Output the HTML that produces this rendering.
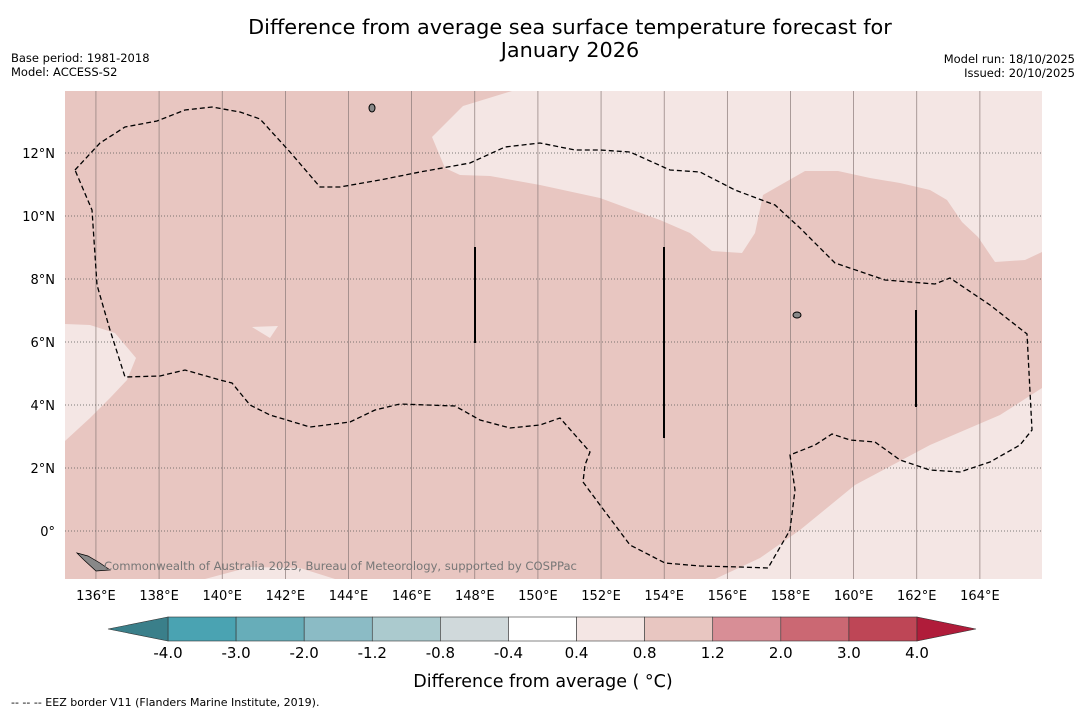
<!DOCTYPE html>
<html><head><meta charset="utf-8"><style>
body{margin:0;background:#fff;font-family:"Liberation Sans","DejaVu Sans",sans-serif;}
svg{display:block}
</style></head><body>
<svg id="c" width="1085" height="713" xmlns="http://www.w3.org/2000/svg" font-family="DejaVu Sans, Liberation Sans, sans-serif">
<text x="570" y="34" font-size="20.8" text-anchor="middle">Difference from average sea surface temperature forecast for</text>
<text x="570" y="57" font-size="20.8" text-anchor="middle">January 2026</text>
<text x="11" y="62" font-size="11.5">Base period: 1981-2018</text>
<text x="11" y="76" font-size="11.5">Model: ACCESS-S2</text>
<text x="1075" y="63" font-size="11.5" text-anchor="end">Model run: 18/10/2025</text>
<text x="1075" y="77" font-size="11.5" text-anchor="end">Issued: 20/10/2025</text>
<defs><clipPath id="mc"><rect x="65" y="91" width="977" height="488"/></clipPath></defs>
<g id="map" clip-path="url(#mc)">
<rect x="65" y="91" width="977" height="488" fill="#e8c6c1"/>
<polygon fill="#f4e6e4" points="432,137 463,106 512,91 1042,91 1042,252 1025,260 995,262 978,237 962,222 947,200 930,190 900,183 870,178 838,171 805,171 763,195 755,233 742,253 712,251 690,233 660,220 600,198 540,185 490,176 460,175 445,168"/>
<polygon fill="#f4e6e4" points="65,324 90,325 115,333 136,358 127,380 110,398 90,418 65,441"/>
<polygon fill="#f4e6e4" points="715,579 760,558 800,530 855,485 930,445 1000,415 1042,388 1042,579"/>
<polygon fill="#f4e6e4" points="252,327 278,326 270,338"/>
<polygon fill="#f4e6e4" points="205,579 250,567 300,568 335,579"/>
<g id="grid"></g>
<polyline fill="none" stroke="#000" stroke-width="1.3" stroke-dasharray="5,3" points="75,170 100,143 125,127 157,121 185,110 212,107 240,112 260,119 290,152 320,187 340,187 380,180 420,172 470,163 505,147 540,143 575,150 600,150 630,152 670,170 700,172 735,190 775,205 800,228 835,263 885,280 935,284 950,278 990,305 1027,334 1032,430 1020,445 990,462 960,472 930,470 900,460 875,442 850,440 832,434 815,445 790,455 795,490 790,530 768,568 740,567 700,566 665,563 630,545 600,505 583,482 585,465 590,452 575,435 560,418 540,425 510,428 480,420 455,406 400,404 375,410 350,422 310,427 270,415 250,405 232,383 220,380 185,370 160,376 125,377 110,330 97,285 92,210 75,170"/>
<line x1="475" y1="247" x2="475" y2="343" stroke="#000" stroke-width="2"/>
<line x1="664" y1="247" x2="664" y2="438" stroke="#000" stroke-width="2"/>
<line x1="916" y1="310" x2="916" y2="407" stroke="#000" stroke-width="2"/>
<polygon fill="#888" stroke="#000" stroke-width="0.7" points="77,553 88,556 100,563 110,570 96,571 84,560"/>
<ellipse cx="797" cy="315" rx="4" ry="3" fill="#888" stroke="#000"/>
<ellipse cx="372" cy="108" rx="3" ry="4" fill="#888" stroke="#000"/>
<text x="104" y="570" font-size="11.6" fill="#777">Commonwealth of Australia 2025, Bureau of Meteorology, supported by COSPPac</text>
</g>
<g id="axes"></g>
<g id="cbar"></g>
<text x="543" y="687" font-size="17.5" text-anchor="middle">Difference from average ( °C)</text>
<text x="11" y="706" font-size="11">--  --  -- EEZ border V11 (Flanders Marine Institute, 2019).</text>
</svg>
<script>
const lonTicks=[136,138,140,142,144,146,148,150,152,154,156,158,160,162,164];
const latTicks=[0,2,4,6,8,10,12];
const cbarLevels=["-4.0","-3.0","-2.0","-1.2","-0.8","-0.4","0.4","0.8","1.2","2.0","3.0","4.0"];
const cbarColors=["#4aa3b2","#67adb9","#8bbbc5","#abcace","#d0d9db","#ffffff","#f4e6e4","#e8c6c1","#d88e96","#cb6873","#be4656"];
const NS="http://www.w3.org/2000/svg";
const x=lon=>65+(lon-135.02)*31.57;
const y=lat=>531-lat*31.5;
function mk(p,t,a){const e=document.createElementNS(NS,t);for(const k in a)e.setAttribute(k,a[k]);p.appendChild(e);return e;}
const grid=document.getElementById('grid'),axes=document.getElementById('axes'),cb=document.getElementById('cbar');
lonTicks.forEach(l=>{const e=mk(grid,'line',{x1:x(l),x2:x(l),y1:91,y2:579,stroke:'#8a7a78','stroke-width':0.7});


const t=mk(axes,'text',{x:x(l),y:600,'font-size':13,'text-anchor':'middle'});t.textContent=l+'°E';

});
latTicks.forEach(l=>{const e=mk(grid,'line',{x1:65,x2:1042,y1:y(l),y2:y(l),stroke:'#555','stroke-width':0.7,'stroke-dasharray':'1,2'});


const t=mk(axes,'text',{x:55,y:y(l)+5,'font-size':13,'text-anchor':'end'});t.textContent=l===0?'0°':l+'°N';

});
const bx0=168,bw=(917-168)/cbarColors.length,by=617,bh=24;
cbarColors.forEach((c,i)=>{const r=mk(cb,'rect',{x:bx0+i*bw,y:by,width:bw,height:bh,fill:c,stroke:'#333','stroke-width':0.6});

});
const la=mk(cb,'polygon',{points:`${bx0},${by} ${bx0},${by+bh} 108,${by+bh/2}`,fill:'#3a7f8a',stroke:'#333','stroke-width':0.6});


const ra=mk(cb,'polygon',{points:`917,${by} 917,${by+bh} 976,${by+bh/2}`,fill:'#b01c3a',stroke:'#333','stroke-width':0.6});


cbarLevels.forEach((v,i)=>{const t=mk(cb,'text',{x:bx0+i*bw,y:658,'font-size':15,'text-anchor':'middle'});t.textContent=v;

});
</script>
</body></html>
